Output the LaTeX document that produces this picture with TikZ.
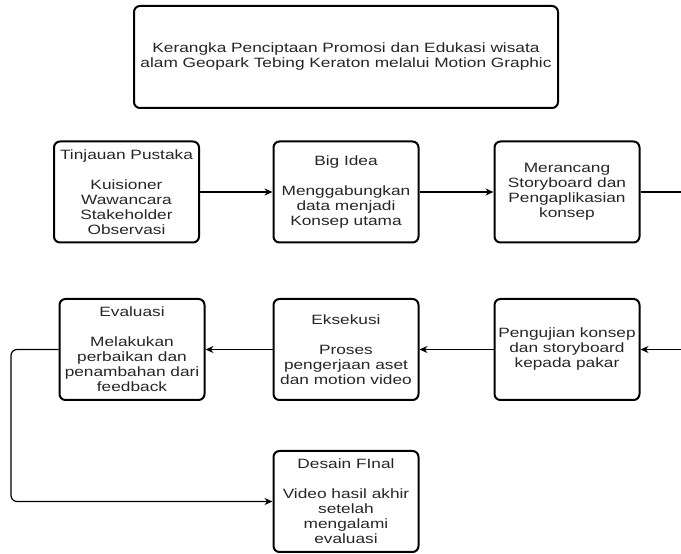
\documentclass[tikz,border=0pt]{standalone}
\usepackage{fontspec}
\setmainfont[FakeStretch=1.28]{Liberation Sans}
\usepackage{tikz}
\usetikzlibrary{arrows, arrows.meta, positioning}
\tikzset{>={Stealth[length=8pt, width=7pt]}}
\tikzset{kotak/.style={draw, line width=2pt, rounded corners=6pt, minimum width=145pt, minimum height=101pt, inner sep=0pt, align=center, text=black!85, font=\fontsize{13.5}{15}\selectfont}}

\begin{document}
\begin{tikzpicture}[x=1pt, y=1pt, line width=1.2pt]
    \useasboundingbox (0,0) rectangle (681,554);
    \node[kotak, minimum width=424pt, minimum height=102pt] (judul) at (346,497){Kerangka Penciptaan Promosi dan Edukasi wisata\\alam Geopark Tebing Keraton melalui Motion Graphic};
    \node[kotak] (tinjauan) at (126.5,362){Tinjauan Pustaka\\[15pt]Kuisioner\\Wawancara\\Stakeholder\\Observasi};
    \node[kotak] (ide) at (346,362){Big Idea\\[15pt]Menggabungkan\\data menjadi\\Konsep utama};
    \node[kotak] (rancang) at (567,362){Merancang\\Storyboard dan\\Pengaplikasian\\konsep};
    \node[kotak] (uji) at (567,204.5){Pengujian konsep\\dan storyboard\\kepada pakar};
    \node[kotak] (eksekusi) at (346,204.5){Eksekusi\\[15pt]Proses\\pengerjaan aset\\dan motion video};
    \node[kotak] (evaluasi) at (132,204.5){Evaluasi\\[15pt]Melakukan\\perbaikan dan\\penambahan dari\\feedback};
    \node[kotak] (final) at (346,52.5){Desain FInal\\[15pt]Video hasil akhir\\setelah\\mengalami\\evaluasi};
    \coordinate (keluar) at (681,362);
    \coordinate (masuk) at (681,204.5);
    \coordinate (balik) at (11,52.5);
    \draw [->](tinjauan)--(ide);
    \draw [->](ide)--(rancang);
    \draw (rancang)--(keluar);
    \draw [->](masuk)--(uji);
    \draw [->](uji)--(eksekusi);
    \draw [->](eksekusi)--(evaluasi);
    \draw [->, rounded corners=6pt](evaluasi.west) -| (balik) -- (final.west);
    \end{tikzpicture}
\end{document}
